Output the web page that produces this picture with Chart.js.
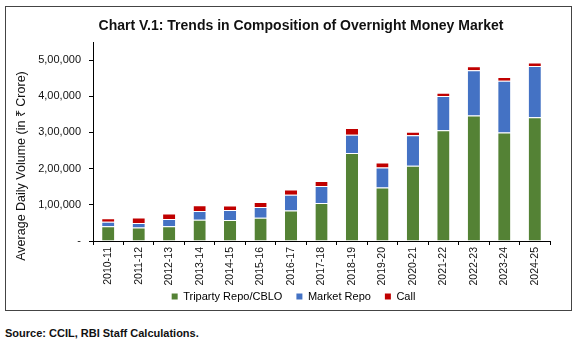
<!DOCTYPE html>
<html>
<head>
<meta charset="utf-8">
<script src="https://cdn.jsdelivr.net/npm/chart.js@4.4.1/dist/chart.umd.min.js"></script>
<style>
    body { margin: 0; background: #fff; font-family: "Liberation Sans", Arial, sans-serif; }
    #frame { position: absolute; left: 5px; top: 6px; width: 565px; height: 303px; border: 1px solid #444; }
    #wrap { position: absolute; left: 0; top: 0; width: 577px; height: 320px; }
    #title { position: absolute; left: 0; top: 17px; width: 602px; text-align: center; font-weight: bold; font-size: 14px; color: #111; }
    #source { position: absolute; left: 5px; top: 327px; font-weight: bold; font-size: 11px; color: #111; }
</style>
</head>
<body>
<div id="frame"></div>
<div id="wrap"><canvas id="chart" width="577" height="320"></canvas></div>
<div id="title">Chart V.1: Trends in Composition of Overnight Money Market</div>
<div id="source">Source: CCIL, RBI Staff Calculations.</div>
<script>
// Dữ liệu biểu đồ (₹ Crore)
const categories = ['2010-11', '2011-12', '2012-13', '2013-14', '2014-15', '2015-16', '2016-17', '2017-18',
    '2018-19', '2019-20', '2020-21', '2021-22', '2022-23', '2023-24', '2024-25'];
const triparty = [41000, 37000, 41000, 59000, 58000, 64000, 84000, 105000, 243000, 148000, 208000, 306000, 347000, 300000, 342000];
const marketRepo = [12000, 13000, 19500, 24000, 28000, 30000, 44000, 47000, 51000, 55000, 84000, 95000, 125000, 143000, 142000];
const call = [10000, 15000, 15500, 16000, 12000, 14000, 14000, 14000, 18000, 14000, 10000, 9000, 11000, 10000, 9000];
const yTickValues = [0, 100000, 200000, 300000, 400000, 500000];
const yTickLabels = ['-', '1,00,000', '2,00,000', '3,00,000', '4,00,000', '5,00,000'];

const FONT = '"Liberation Sans", Arial, sans-serif';
const sep = { top: 1, left: 0, right: 0, bottom: 0 };

// Tiêu đề trục Y
const yTitlePlugin = {
    id: 'yTitle',
    afterDraw(chart) {
        const c = chart.ctx;
        c.save();
        c.translate(22, 166);
        c.rotate(-Math.PI / 2);
        c.font = '12.5px ' + FONT;
        c.fillStyle = '#111';
        c.textAlign = 'center';
        c.textBaseline = 'middle';
        c.fillText('Average Daily Volume (in ₹ Crore)', 0, 0);
        c.restore();
    }
};

// Kéo legend lên sát nhãn trục X
const legendShift = {
    id: 'legendShift',
    afterLayout(chart) {
        chart.legend.top -= 8;
        chart.legend.bottom -= 8;
    }
};

const ctx = document.getElementById('chart').getContext('2d');
const chart = new Chart(ctx, {
    type: 'bar',
    data: {
        labels: categories,
        datasets: [
            { label: 'Triparty Repo/CBLO', data: triparty, backgroundColor: '#548235', borderColor: 'rgba(255,255,255,0.45)', borderWidth: sep },
            { label: 'Market Repo', data: marketRepo, backgroundColor: '#4472C4', borderColor: 'rgba(255,255,255,0.45)', borderWidth: sep },
            { label: 'Call', data: call, backgroundColor: '#C00000', borderColor: 'rgba(255,255,255,0.45)', borderWidth: sep }
        ]
    },
    options: {
        responsive: false,
        animation: false,
        devicePixelRatio: 1,
        datasets: { bar: { categoryPercentage: 1, barPercentage: 0.4 } },
        layout: { padding: { left: 37, right: 27, top: 42, bottom: 0 } },
        plugins: {
            tooltip: { enabled: false },
            legend: {
                position: 'bottom',
                labels: {
                    boxWidth: 6, boxHeight: 6, padding: 14, color: '#111',
                    font: { size: 11, family: FONT },
                    generateLabels(ch) {
                        return ch.data.datasets.map((ds, i) => ({
                            text: ds.label, fillStyle: ds.backgroundColor, strokeStyle: ds.backgroundColor,
                            lineWidth: 0, datasetIndex: i, hidden: false
                        }));
                    }
                }
            }
        },
        scales: {
            x: {
                stacked: true,
                grid: { drawOnChartArea: false, tickLength: 4, color: '#000', offset: true },
                border: { color: '#000' },
                ticks: { minRotation: 90, maxRotation: 90, padding: 2, color: '#111', font: { size: 10.5, family: FONT } },
                afterFit(s) { s.height = 44; }
            },
            y: {
                stacked: true,
                min: 0,
                max: 550000,
                grid: { drawOnChartArea: false, tickLength: 4, color: '#000' },
                border: { color: '#000' },
                ticks: {
                    padding: 8, color: '#111', font: { size: 11, family: FONT },
                    callback: (v, i) => yTickLabels[i]
                },
                afterBuildTicks(s) { s.ticks = yTickValues.map(v => ({ value: v })); },
                afterFit(s) { s.width = 56; }
            }
        }
    },
    plugins: [yTitlePlugin, legendShift]
});
</script>
</body>
</html>
